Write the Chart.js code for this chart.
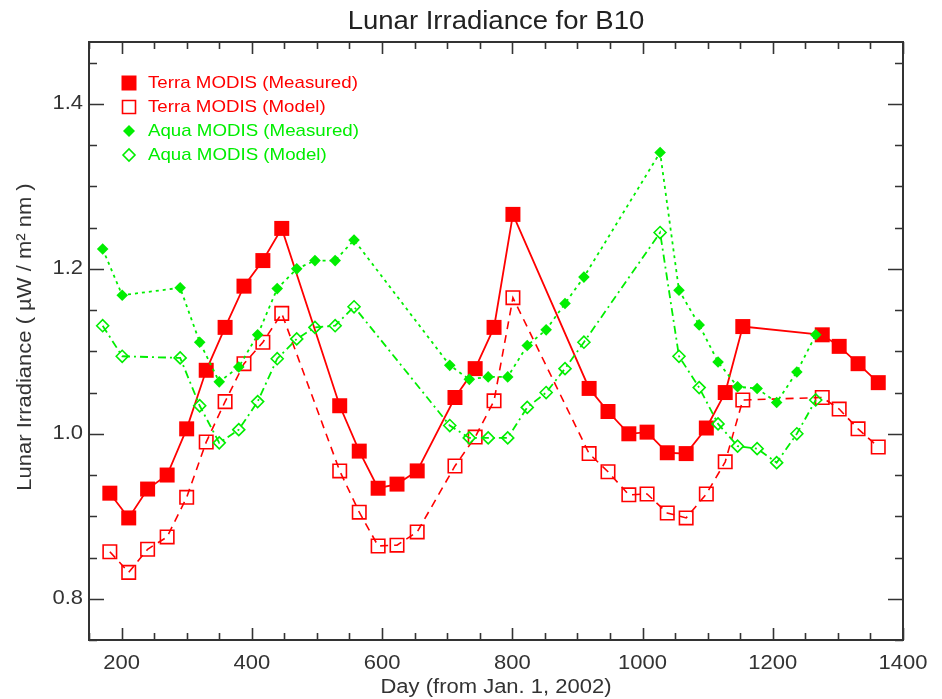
<!DOCTYPE html>
<html>
<head>
<meta charset="UTF-8">
<title>Lunar Irradiance for B10</title>
<script src="https://cdn.jsdelivr.net/npm/chart.js"></script>
<style>
  body { margin: 0; background: #fff; }
  #wrap { width: 942px; height: 699px; }
</style>
</head>
<body>
<div id="wrap"><canvas id="chart" width="942" height="699"></canvas></div>
<script>
// values
const terraDays = [182, 211, 240, 270, 300, 330, 359, 388, 417, 446, 535, 565, 594, 623, 654, 712, 743, 772, 801, 918, 947, 979, 1007, 1038, 1067, 1098, 1127, 1154, 1276, 1302, 1331, 1362];
const terraMeasured = [0.928, 0.898, 0.933, 0.950, 1.006, 1.077, 1.129, 1.179, 1.210, 1.249, 1.034, 0.979, 0.934, 0.939, 0.955, 1.044, 1.079, 1.129, 1.266, 1.055, 1.027, 1.000, 1.002, 0.977, 0.976, 1.007, 1.050, 1.130, 1.120, 1.106, 1.085, 1.062];
const terraModel = [0.857, 0.832, 0.860, 0.875, 0.923, 0.990, 1.039, 1.085, 1.111, 1.146, 0.955, 0.905, 0.864, 0.865, 0.881, 0.961, 0.996, 1.040, 1.165, 0.976, 0.954, 0.926, 0.927, 0.904, 0.898, 0.927, 0.966, 1.041, 1.044, 1.030, 1.006, 0.984];

const aquaDays = [171, 201, 290, 320, 350, 380, 409, 439, 469, 497, 528, 557, 704, 734, 763, 793, 823, 852, 881, 910, 1027, 1056, 1087, 1116, 1146, 1176, 1206, 1237, 1266];
const aquaMeasured = [1.224, 1.168, 1.177, 1.111, 1.063, 1.081, 1.120, 1.176, 1.200, 1.210, 1.210, 1.235, 1.083, 1.066, 1.069, 1.069, 1.107, 1.126, 1.158, 1.190, 1.341, 1.174, 1.132, 1.087, 1.057, 1.055, 1.038, 1.075, 1.120];
const aquaModel = [1.131, 1.094, 1.092, 1.034, 0.989, 1.005, 1.039, 1.091, 1.115, 1.129, 1.131, 1.154, 1.010, 0.995, 0.995, 0.995, 1.032, 1.050, 1.079, 1.111, 1.244, 1.094, 1.056, 1.012, 0.985, 0.982, 0.965, 1.000, 1.041];

const xTicks = [200, 400, 600, 800, 1000, 1200, 1400];
const xMinor = 50;
const yTicks = [0.8, 1.0, 1.2, 1.4];
const yMinor = 0.05;

const RED = '#ff0000';
const GREEN = '#00ee00';
const FONT = '"Liberation Sans", Arial, sans-serif';
const SX = 1.1; // original lettering is a bit wider than Arial

function pts(xs, ys) {
  return xs.map((x, i) => ({ x: x, y: ys[i] }));
}

function wideText(ctx, text, x, y, size, color, align) {
  ctx.save();
  ctx.font = size + 'px ' + FONT;
  ctx.fillStyle = color;
  ctx.textBaseline = 'middle';
  ctx.textAlign = 'left';
  const w = ctx.measureText(text).width * SX;
  const left = align === 'center' ? x - w / 2 : (align === 'right' ? x - w : x);
  ctx.translate(left, y);
  ctx.scale(SX, 1);
  ctx.fillText(text, 0, 0);
  ctx.restore();
}

const legendItems = [
  { text: 'Terra MODIS (Measured)', color: RED, shape: 'square', fill: true },
  { text: 'Terra MODIS (Model)', color: RED, shape: 'square', fill: false },
  { text: 'Aqua MODIS (Measured)', color: GREEN, shape: 'diamond', fill: true },
  { text: 'Aqua MODIS (Model)', color: GREEN, shape: 'diamond', fill: false }
];

const framePlugin = {
  id: 'frame',
  afterDraw(chart) {
    const ctx = chart.ctx;
    const a = chart.chartArea;
    const xs = chart.scales.x;
    const ys = chart.scales.y;

    ctx.save();
    ctx.strokeStyle = '#333';
    ctx.lineWidth = 2;
    ctx.strokeRect(a.left, a.top, a.right - a.left, a.bottom - a.top);

    // inward ticks, all four sides
    ctx.lineWidth = 1.6;
    ctx.beginPath();
    for (let v = 150; v <= 1400; v += xMinor) {
      const px = Math.round(xs.getPixelForValue(v)) + 0.5;
      const len = v % 200 === 0 ? 12 : 7;
      ctx.moveTo(px, a.bottom); ctx.lineTo(px, a.bottom - len);
      ctx.moveTo(px, a.top); ctx.lineTo(px, a.top + len);
    }
    for (let k = 0; k <= 14; k++) {
      const v = 0.75 + k * yMinor;
      if (v > 1.476) break;
      const py = Math.round(ys.getPixelForValue(v)) + 0.5;
      const major = k % 4 === 1;
      const len = major ? 15 : 8;
      ctx.moveTo(a.left, py); ctx.lineTo(a.left + len, py);
      ctx.moveTo(a.right, py); ctx.lineTo(a.right - len, py);
    }
    ctx.stroke();
    ctx.restore();

    // tick labels
    xTicks.forEach(v => wideText(ctx, String(v), xs.getPixelForValue(v), a.bottom + 23, 20, '#333', 'center'));
    yTicks.forEach(v => wideText(ctx, v.toFixed(1), a.left - 6, ys.getPixelForValue(v), 20, '#333', 'right'));

    // titles
    wideText(ctx, 'Lunar Irradiance for B10', (a.left + a.right) / 2, 22, 25, '#222', 'center');
    wideText(ctx, 'Day (from Jan. 1, 2002)', (a.left + a.right) / 2, 687, 20, '#333', 'center');
    ctx.save();
    ctx.translate(25, 337);
    ctx.rotate(-Math.PI / 2);
    wideText(ctx, 'Lunar Irradiance ( \u00b5W / m\u00b2 nm )', 0, 0, 20, '#333', 'center');
    ctx.restore();

    // legend inside the plot
    const rows = [83, 107, 131, 155];
    legendItems.forEach((it, i) => {
      const cx = 129, cy = rows[i];
      ctx.save();
      ctx.fillStyle = it.color;
      ctx.strokeStyle = it.color;
      ctx.lineWidth = 1.6;
      ctx.beginPath();
      if (it.shape === 'square') {
        const h = it.fill ? 7.5 : 6.5;
        ctx.rect(cx - h, cy - h, 2 * h, 2 * h);
      } else {
        const r = 6;
        ctx.moveTo(cx - r, cy); ctx.lineTo(cx, cy - r);
        ctx.lineTo(cx + r, cy); ctx.lineTo(cx, cy + r);
        ctx.closePath();
      }
      if (it.fill) ctx.fill(); else ctx.stroke();
      ctx.restore();
      wideText(ctx, it.text, 148, cy, 17, it.color, 'left');
    });
  }
};

new Chart(document.getElementById('chart'), {
  type: 'scatter',
  data: {
    datasets: [
      {
        label: 'Terra MODIS (Measured)',
        data: pts(terraDays, terraMeasured),
        showLine: true, order: 3,
        borderColor: RED, backgroundColor: RED, borderWidth: 1.8,
        pointStyle: 'rect', pointRadius: 10.6, pointBorderWidth: 0,
        pointBackgroundColor: RED
      },
      {
        label: 'Terra MODIS (Model)',
        data: pts(terraDays, terraModel),
        showLine: true, order: 2,
        borderColor: RED, borderWidth: 1.6, borderDash: [8, 6],
        pointStyle: 'rect', pointRadius: 9.5, pointBorderWidth: 1.6,
        pointBorderColor: RED, pointBackgroundColor: 'rgba(0,0,0,0)'
      },
      {
        label: 'Aqua MODIS (Measured)',
        data: pts(aquaDays, aquaMeasured),
        showLine: true, order: 1,
        borderColor: GREEN, borderWidth: 1.8, borderDash: [3, 4],
        pointStyle: 'rectRot', pointRadius: 5.8, pointBorderWidth: 0,
        pointBackgroundColor: GREEN
      },
      {
        label: 'Aqua MODIS (Model)',
        data: pts(aquaDays, aquaModel),
        showLine: true, order: 0,
        borderColor: GREEN, borderWidth: 1.8, borderDash: [8, 4, 2, 4],
        pointStyle: 'rectRot', pointRadius: 6, pointBorderWidth: 1.6,
        pointBorderColor: GREEN, pointBackgroundColor: 'rgba(0,0,0,0)'
      }
    ]
  },
  options: {
    responsive: false,
    animation: false,
    layout: { padding: { left: 89, top: 42, right: 39, bottom: 59 } },
    plugins: {
      legend: { display: false },
      title: { display: false },
      tooltip: { enabled: false }
    },
    scales: {
      x: { type: 'linear', min: 150, max: 1400, display: false },
      y: { type: 'linear', min: 0.75, max: 1.475, display: false }
    }
  },
  plugins: [framePlugin]
});
</script>
</body>
</html>
